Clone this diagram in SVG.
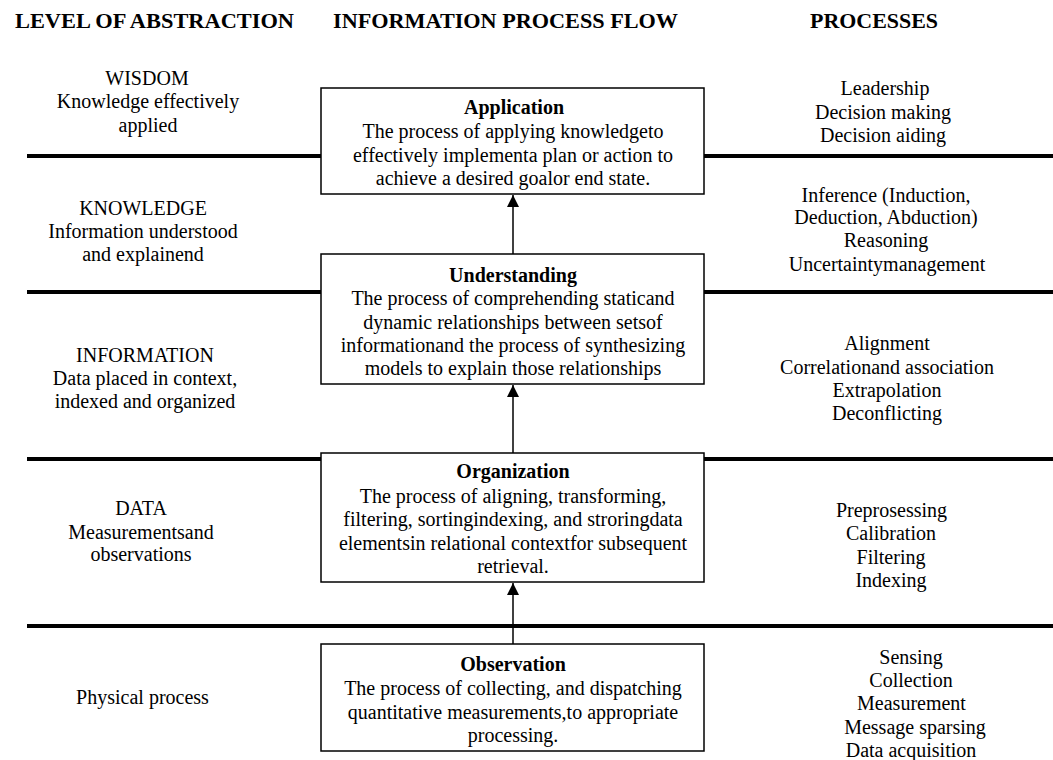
<svg xmlns="http://www.w3.org/2000/svg" width="1053" height="760" viewBox="0 0 1053 760">
  <defs>
    <style>
      text { font-family: "Liberation Serif", "Times New Roman", serif; fill: #000; }
      .head { font-size: 20px; font-weight: bold; }
      .title { font-size: 20px; font-weight: bold; text-anchor: middle; }
      .body { font-size: 20px; text-anchor: middle; }
      .box { fill: #fff; stroke: #000; stroke-width: 1.5; }
      .band { stroke: #000; stroke-width: 4; }
      .flow { stroke: #000; stroke-width: 1.5; fill: none; marker-end: url(#arrow); }
    </style>
    <marker id="arrow" viewBox="0 0 12 12" refX="12" refY="6" markerWidth="12" markerHeight="12" markerUnits="userSpaceOnUse" orient="auto">
      <path d="M0,0 L12,6 L0,12 Z" fill="#000"/>
    </marker>
  </defs>

  <rect width="1053" height="760" fill="#fff"/>

  <!-- column headings -->
  <g id="headings">
    <text class="head" x="15" y="28" textLength="279" lengthAdjust="spacingAndGlyphs">LEVEL OF ABSTRACTION</text>
    <text class="head" x="333" y="28" textLength="345" lengthAdjust="spacingAndGlyphs">INFORMATION PROCESS FLOW</text>
    <text class="head" x="810" y="28" textLength="128" lengthAdjust="spacingAndGlyphs">PROCESSES</text>
  </g>

  <!-- level separators -->
  <g id="bands">
    <line class="band" x1="27" y1="156" x2="1053" y2="156"/>
    <line class="band" x1="27" y1="292" x2="1053" y2="292"/>
    <line class="band" x1="27" y1="459" x2="1053" y2="459"/>
    <line class="band" x1="27" y1="626" x2="1053" y2="626"/>
  </g>

  <!-- upward flow between stages -->
  <g id="connectors">
    <line class="flow" x1="513" y1="644" x2="513" y2="583"/>
    <line class="flow" x1="513" y1="453" x2="513" y2="385"/>
    <line class="flow" x1="513" y1="254" x2="513" y2="195"/>
  </g>

  <g id="application">
    <rect class="box" x="321" y="88" width="383" height="106"/>
    <text class="title" x="514" y="114">Application</text>
    <text class="body" x="513" y="138">The process of applying knowledgeto</text>
    <text class="body" x="513" y="161.5">effectively implementa plan or action to</text>
    <text class="body" x="513" y="185">achieve a desired goalor end state.</text>
  </g>

  <g id="understanding">
    <rect class="box" x="321" y="254" width="383" height="130"/>
    <text class="title" x="513" y="282">Understanding</text>
    <text class="body" x="513" y="305">The process of comprehending staticand</text>
    <text class="body" x="513" y="328.5">dynamic relationships between setsof</text>
    <text class="body" x="513" y="352">informationand the process of synthesizing</text>
    <text class="body" x="513" y="375">models to explain those relationships</text>
  </g>

  <g id="organization">
    <rect class="box" x="321" y="453" width="383" height="129"/>
    <text class="title" x="513" y="478">Organization</text>
    <text class="body" x="513" y="502.5">The process of aligning, transforming,</text>
    <text class="body" x="513" y="526">filtering, sortingindexing, and stroringdata</text>
    <text class="body" x="513" y="549.5">elementsin relational contextfor subsequent</text>
    <text class="body" x="513" y="572.5">retrieval.</text>
  </g>

  <g id="observation">
    <rect class="box" x="321" y="644" width="383" height="107"/>
    <text class="title" x="513" y="671">Observation</text>
    <text class="body" x="513" y="695">The process of collecting, and dispatching</text>
    <text class="body" x="513" y="718.5">quantitative measurements,to appropriate</text>
    <text class="body" x="513" y="742">processing.</text>
  </g>

  <!-- abstraction levels -->
  <g id="level-wisdom">
    <text class="body" x="147" y="85">WISDOM</text>
    <text class="body" x="148" y="108">Knowledge effectively</text>
    <text class="body" x="148" y="131.5">applied</text>
  </g>
  <g id="level-knowledge">
    <text class="body" x="143" y="215">KNOWLEDGE</text>
    <text class="body" x="143" y="238">Information understood</text>
    <text class="body" x="143" y="261">and explainend</text>
  </g>
  <g id="level-information">
    <text class="body" x="145" y="362">INFORMATION</text>
    <text class="body" x="145" y="385">Data placed in context,</text>
    <text class="body" x="145" y="408">indexed and organized</text>
  </g>
  <g id="level-data">
    <text class="body" x="141" y="515">DATA</text>
    <text class="body" x="141" y="538.5">Measurementsand</text>
    <text class="body" x="141" y="560.5">observations</text>
  </g>
  <g id="level-physical">
    <text class="body" x="142.5" y="703.5">Physical process</text>
  </g>

  <!-- processes per level -->
  <g id="proc-wisdom">
    <text class="body" x="885" y="95">Leadership</text>
    <text class="body" x="883" y="118.5">Decision making</text>
    <text class="body" x="883" y="141.5">Decision aiding</text>
  </g>
  <g id="proc-knowledge">
    <text class="body" x="886" y="201.5">Inference (Induction,</text>
    <text class="body" x="886" y="223.5">Deduction, Abduction)</text>
    <text class="body" x="886" y="246.5">Reasoning</text>
    <text class="body" x="887" y="270.5">Uncertaintymanagement</text>
  </g>
  <g id="proc-information">
    <text class="body" x="887" y="350">Alignment</text>
    <text class="body" x="887" y="373.5">Correlationand association</text>
    <text class="body" x="887" y="396.5">Extrapolation</text>
    <text class="body" x="887" y="420">Deconflicting</text>
  </g>
  <g id="proc-data">
    <text class="body" x="891.5" y="516.5">Preprosessing</text>
    <text class="body" x="891" y="540">Calibration</text>
    <text class="body" x="891" y="563.5">Filtering</text>
    <text class="body" x="891" y="586.5">Indexing</text>
  </g>
  <g id="proc-physical">
    <text class="body" x="911" y="663.5">Sensing</text>
    <text class="body" x="911" y="686.5">Collection</text>
    <text class="body" x="911.5" y="710">Measurement</text>
    <text class="body" x="915" y="733.5">Message sparsing</text>
    <text class="body" x="911" y="756.5">Data acquisition</text>
  </g>
</svg>
